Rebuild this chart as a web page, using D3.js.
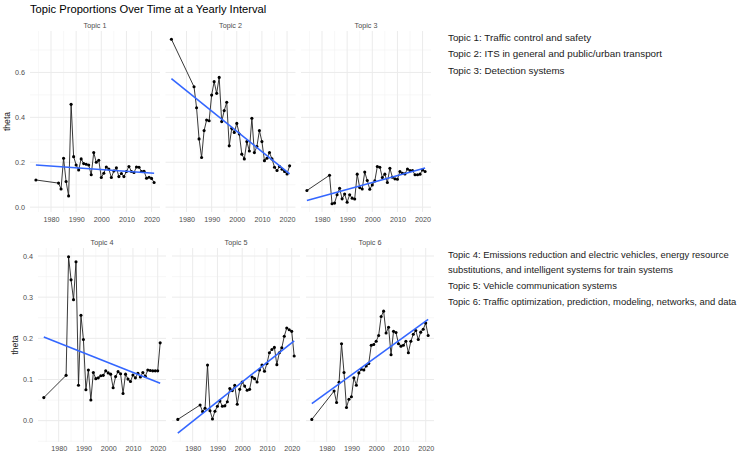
<!DOCTYPE html>
<html>
<head>
<meta charset="utf-8">
<script src="https://cdn.jsdelivr.net/npm/d3@7"></script>
<style>
  body { margin: 0; background: #ffffff; }
  svg { display: block; font-family: "Liberation Sans", Arial, sans-serif; }
</style>
</head>
<body>
<svg id="chart" width="745" height="454"></svg>
<script>
// ---------------- DATA ----------------
const years = [1974, 1983, 1984, 1985, 1986, 1987, 1988, 1989, 1990, 1991,
  1992, 1993, 1994, 1995, 1996, 1997, 1998, 1999, 2000, 2001,
  2002, 2003, 2004, 2005, 2006, 2007, 2008, 2009, 2010, 2011,
  2012, 2013, 2014, 2015, 2016, 2017, 2018, 2019, 2020, 2021];

const topic1 = [0.121, 0.107, 0.081, 0.218, 0.114, 0.050, 0.458, 0.225, 0.188, 0.166,
  0.215, 0.194, 0.191, 0.188, 0.144, 0.243, 0.200, 0.209, 0.132, 0.151,
  0.179, 0.170, 0.132, 0.161, 0.175, 0.136, 0.150, 0.136, 0.159, 0.181,
  0.159, 0.154, 0.179, 0.178, 0.159, 0.160, 0.129, 0.133, 0.128, 0.110];

const topic2 = [0.748, 0.536, 0.443, 0.304, 0.221, 0.341, 0.388, 0.385, 0.499, 0.559,
  0.507, 0.578, 0.381, 0.430, 0.467, 0.273, 0.351, 0.333, 0.373, 0.326,
  0.236, 0.215, 0.292, 0.250, 0.396, 0.243, 0.270, 0.341, 0.292, 0.207,
  0.218, 0.243, 0.215, 0.178, 0.163, 0.181, 0.169, 0.159, 0.148, 0.184];

const topic3 = [0.074, 0.142, 0.015, 0.018, 0.055, 0.084, 0.037, 0.058, 0.022, 0.055,
  0.040, 0.036, 0.147, 0.087, 0.081, 0.156, 0.119, 0.080, 0.099, 0.117,
  0.181, 0.178, 0.132, 0.147, 0.110, 0.173, 0.133, 0.126, 0.124, 0.159,
  0.151, 0.148, 0.170, 0.163, 0.163, 0.144, 0.144, 0.147, 0.166, 0.159];

const topic4 = [0.056, 0.110, 0.398, 0.342, 0.294, 0.386, 0.086, 0.256, 0.197, 0.075,
  0.123, 0.050, 0.117, 0.102, 0.104, 0.109, 0.110, 0.121, 0.116, 0.113,
  0.080, 0.107, 0.119, 0.114, 0.066, 0.113, 0.101, 0.095, 0.111, 0.104,
  0.115, 0.106, 0.117, 0.108, 0.123, 0.122, 0.121, 0.121, 0.121, 0.189];

const topic5 = [0.003, 0.038, 0.022, 0.030, 0.135, 0.024, 0.004, 0.023, 0.035, 0.048,
  0.035, 0.036, 0.046, 0.078, 0.073, 0.086, 0.040, 0.076, 0.094, 0.084,
  0.074, 0.076, 0.106, 0.102, 0.094, 0.123, 0.135, 0.120, 0.139, 0.165,
  0.173, 0.178, 0.136, 0.165, 0.177, 0.205, 0.225, 0.221, 0.217, 0.157];

const topic6 = [0.003, 0.072, 0.044, 0.093, 0.187, 0.117, 0.032, 0.052, 0.058, 0.104,
  0.086, 0.116, 0.125, 0.123, 0.133, 0.139, 0.183, 0.185, 0.193, 0.207,
  0.253, 0.266, 0.213, 0.227, 0.160, 0.217, 0.214, 0.187, 0.181, 0.183,
  0.193, 0.165, 0.193, 0.210, 0.219, 0.197, 0.215, 0.222, 0.237, 0.207];

const topRowNames = ["Topic 1", "Topic 2", "Topic 3"];
const bottomRowNames = ["Topic 4", "Topic 5", "Topic 6"];

const xTickLabels = [1980, 1990, 2000, 2010, 2020];
const yTicksTop = [0.0, 0.2, 0.4, 0.6];
const yTicksBottom = [0.0, 0.1, 0.2, 0.3, 0.4];

const titleText = "Topic Proportions Over Time at a Yearly Interval";
const yLabelText = "theta";

const legendTop = [
  "Topic 1: Traffic control and safety",
  "Topic 2: ITS in general and public/urban transport",
  "Topic 3: Detection systems"
];
const legendBottom = [
  "Topic 4: Emissions reduction and electric vehicles, energy resource",
  "substitutions, and intelligent systems for train systems",
  "Topic 5: Vehicle communication systems",
  "Topic 6: Traffic optimization, prediction, modeling, networks, and data"
];

// ---------------- HELPERS ----------------
const svg = d3.select("#chart");

function linFit(xs, ys) {
  const mx = d3.mean(xs), my = d3.mean(ys);
  let sxy = 0, sxx = 0;
  for (let i = 0; i < xs.length; i++) {
    sxy += (xs[i] - mx) * (ys[i] - my);
    sxx += (xs[i] - mx) * (xs[i] - mx);
  }
  const b = sxy / sxx;
  const a = my - b * mx;
  return x => a + b * x;
}

function expand(lo, hi, f) {
  const pad = (hi - lo) * f;
  return [lo - pad, hi + pad];
}

function minorBreaks(majors, domain) {
  const step = majors[1] - majors[0];
  const out = [];
  const start = majors[0] - step / 2;
  for (let v = start; v <= domain[1] + 1e-9; v += step) {
    if (v >= domain[0] - 1e-9) out.push(v);
  }
  return out;
}

function drawRow(seriesList, names, yTicks, L) {
  const xExtent = d3.extent(years);
  const fits = seriesList.map(s => linFit(years, s));
  // y domain like ggplot: data + fitted lines, 5% expansion
  let lo = Infinity, hi = -Infinity;
  seriesList.forEach((s, i) => {
    lo = Math.min(lo, d3.min(s), fits[i](xExtent[0]), fits[i](xExtent[1]));
    hi = Math.max(hi, d3.max(s), fits[i](xExtent[0]), fits[i](xExtent[1]));
  });
  const yDomain = expand(lo, hi, 0.05);
  const xDomain = expand(xExtent[0], xExtent[1], 0.05);
  const y = d3.scaleLinear().domain(yDomain).range([L.bottom, L.top]);

  const xMinor = minorBreaks(xTickLabels, xDomain);
  const yMinor = minorBreaks(yTicks, yDomain);

  seriesList.forEach((s, i) => {
    const x0 = L.left + i * L.step;
    const x = d3.scaleLinear().domain(xDomain).range([x0, x0 + L.width]);
    const g = svg.append("g");

    // minor grid
    g.selectAll(".ymin").data(yMinor).join("line")
      .attr("x1", x0).attr("x2", x0 + L.width)
      .attr("y1", d => y(d)).attr("y2", d => y(d))
      .attr("stroke", "#f1f1f1").attr("stroke-width", 0.6);
    g.selectAll(".xmin").data(xMinor).join("line")
      .attr("y1", L.top).attr("y2", L.bottom)
      .attr("x1", d => x(d)).attr("x2", d => x(d))
      .attr("stroke", "#f1f1f1").attr("stroke-width", 0.6);
    // major grid
    g.selectAll(".ymaj").data(yTicks).join("line")
      .attr("x1", x0).attr("x2", x0 + L.width)
      .attr("y1", d => y(d)).attr("y2", d => y(d))
      .attr("stroke", "#ebebeb").attr("stroke-width", 1);
    g.selectAll(".xmaj").data(xTickLabels).join("line")
      .attr("y1", L.top).attr("y2", L.bottom)
      .attr("x1", d => x(d)).attr("x2", d => x(d))
      .attr("stroke", "#ebebeb").attr("stroke-width", 1);

    // strip label
    g.append("text")
      .attr("x", x0 + L.width / 2).attr("y", L.stripY)
      .attr("text-anchor", "middle")
      .attr("font-size", 7.2).attr("fill", "#4d4d4d")
      .text(names[i]);

    // x axis
    const xa = g.append("g")
      .attr("transform", `translate(0,${L.bottom})`)
      .call(d3.axisBottom(x).tickValues(xTickLabels).tickFormat(d3.format("d")).tickSize(0).tickPadding(L.xPad));
    xa.select(".domain").remove();
    xa.selectAll("text").attr("font-size", 7.2).attr("fill", "#4d4d4d")
      .attr("font-family", "\"Liberation Sans\", Arial, sans-serif");

    // y axis (first panel only)
    if (i === 0) {
      const ya = g.append("g")
        .attr("transform", `translate(${x0},0)`)
        .call(d3.axisLeft(y).tickValues(yTicks).tickFormat(d3.format(".1f")).tickSize(0).tickPadding(5));
      ya.select(".domain").remove();
      ya.selectAll("text").attr("font-size", 7.2).attr("fill", "#4d4d4d")
        .attr("font-family", "\"Liberation Sans\", Arial, sans-serif");
      g.append("text")
        .attr("transform", `translate(${L.yLabelX},${(L.top + L.bottom) / 2}) rotate(-90)`)
        .attr("text-anchor", "middle")
        .attr("font-size", 8.6).attr("fill", "#1a1a1a")
        .text(yLabelText);
    }

    // data line
    const pts = years.map((yr, k) => [yr, s[k]]);
    g.append("path")
      .attr("d", d3.line().x(d => x(d[0])).y(d => y(d[1]))(pts))
      .attr("fill", "none").attr("stroke", "#222").attr("stroke-width", 0.9);
    g.selectAll(".pt").data(pts).join("circle")
      .attr("cx", d => x(d[0])).attr("cy", d => y(d[1]))
      .attr("r", 1.55).attr("fill", "#000");

    // linear fit
    const f = fits[i];
    g.append("path")
      .attr("d", d3.line().x(d => x(d)).y(d => y(f(d)))(xExtent))
      .attr("fill", "none").attr("stroke", "#3366FF").attr("stroke-width", 1.6);
  });
}

// ---------------- DRAW ----------------
svg.append("rect").attr("width", 745).attr("height", 454).attr("fill", "#fff");

svg.append("text")
  .attr("x", 30).attr("y", 13)
  .attr("font-size", 11.2).attr("fill", "#000")
  .text(titleText);

drawRow([topic1, topic2, topic3], topRowNames, yTicksTop,
  { left: 30, width: 130, step: 135.5, top: 31, bottom: 212, stripY: 27.5, xPad: 4.8, yLabelX: 9.5 });

drawRow([topic4, topic5, topic6], bottomRowNames, yTicksBottom,
  { left: 38, width: 128, step: 134, top: 248, bottom: 442, stripY: 245, xPad: 3.4, yLabelX: 18 });

svg.selectAll(".legT").data(legendTop).join("text")
  .attr("x", 448).attr("y", (d, i) => 40.5 + i * 16.8)
  .attr("font-size", 9.8).attr("fill", "#1a1a1a")
  .text(d => d);

svg.selectAll(".legB").data(legendBottom).join("text")
  .attr("x", 448).attr("y", (d, i) => 257.5 + i * 15.8)
  .attr("font-size", 9.45).attr("fill", "#1a1a1a")
  .text(d => d);
</script>
</body>
</html>
